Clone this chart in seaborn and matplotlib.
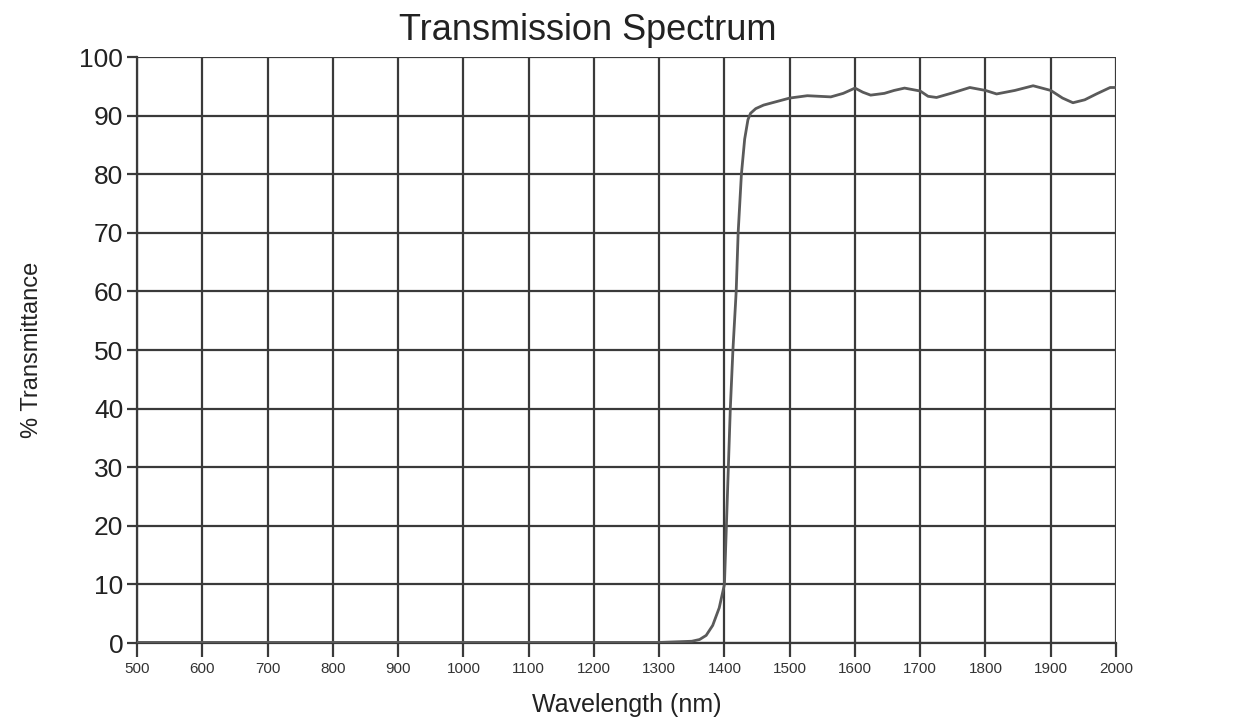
import numpy as np
import pandas as pd
import matplotlib
matplotlib.use("Agg")
import matplotlib.pyplot as plt
import seaborn as sns

# Data
wavelength = [500, 1300, 1350, 1362, 1372, 1382, 1392, 1400, 1403, 1406, 1409,
              1413, 1418, 1421, 1426, 1431, 1436, 1440, 1448, 1460, 1480, 1500,
              1527, 1545, 1563, 1582, 1600, 1612, 1624, 1645, 1660, 1676, 1700,
              1712, 1725, 1750, 1776, 1800, 1817, 1845, 1873, 1900, 1918, 1934,
              1952, 1970, 1991, 2000]
transmittance = [0.1, 0.1, 0.3, 0.6, 1.3, 3.0, 6.0, 10, 20, 30, 40,
                 50, 60, 70, 80, 86, 89.3, 90.4, 91.2, 91.8, 92.4, 93.0,
                 93.4, 93.3, 93.2, 93.8, 94.7, 94.0, 93.5, 93.8, 94.3, 94.7, 94.2,
                 93.3, 93.1, 93.9, 94.8, 94.3, 93.7, 94.3, 95.1, 94.3, 93.0, 92.2,
                 92.7, 93.7, 94.8, 94.8]

x_ticks = list(range(500, 2001, 100))
y_ticks = list(range(0, 101, 10))

df = pd.DataFrame({"wavelength": wavelength, "transmittance": transmittance})

sns.set_style("white")
plt.rcParams['font.family'] = ['Liberation Sans', 'DejaVu Sans']

fig = plt.figure(figsize=(12.37, 7.22), dpi=100)
ax = fig.add_axes([0.1108, 0.1094, 0.7914, 0.8116])

sns.lineplot(data=df, x="wavelength", y="transmittance", color="#5a5a5a",
             linewidth=2.0, ax=ax, zorder=3)

ax.set_xlim(500, 2000)
ax.set_ylim(0, 100)
ax.set_xticks(x_ticks)
ax.set_yticks(y_ticks)
ax.set_xticklabels([str(t) for t in x_ticks], fontsize=11, color="#333333")
ax.set_yticklabels([str(t) for t in y_ticks], fontsize=19, color="#222222")
ax.grid(True, color="#3a3a3a", linewidth=1.6)
ax.set_axisbelow(True)
for side in ["top", "right"]:
    ax.spines[side].set_visible(False)
for side in ["left", "bottom"]:
    ax.spines[side].set_color("#3a3a3a")
    ax.spines[side].set_linewidth(1.6)
ax.tick_params(axis="x", length=10, width=1.6, color="#3a3a3a", pad=4,
               direction="out", bottom=True)
ax.tick_params(axis="y", length=7, width=1.6, color="#3a3a3a", pad=3,
               direction="out", left=True)

ax.set_xlabel("Wavelength (nm)", fontsize=18, color="#222222", labelpad=12)
ax.set_ylabel("% Transmittance", fontsize=17, color="#222222", labelpad=26)
fig.text(0.475, 0.958, "Transmission Spectrum", fontsize=26, color="#222222",
         ha="center", va="center")

fig.savefig("out.png", dpi=100, facecolor="white")
